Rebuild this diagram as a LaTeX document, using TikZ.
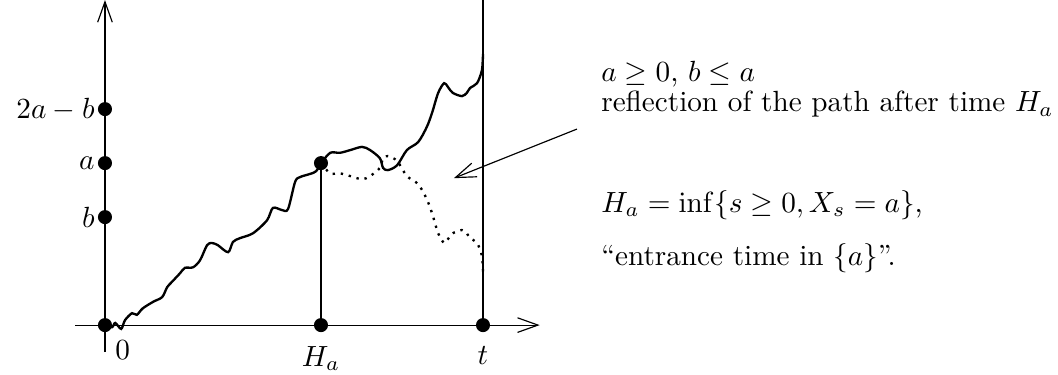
\documentclass[tikz,border=0pt]{standalone}
\usetikzlibrary{arrows.meta}
\begin{document}
\begin{tikzpicture}[x=0.65cm, y=0.65cm, >={Straight Barb[length=7pt,width=5pt]}]
        \useasboundingbox (-1.944,-0.907) rectangle (17.648,6.02);
        % Axes
        \draw[->] (-0.55,0) -- (8.05,0);
        \draw[->] (0,-0.5) -- (0,6.02);
        \draw (4,0) -- (4,3);
        \draw (7,0) -- (7,6.02);

        % Labels
        \node[left] (lab2ab) at (0,4) {$2a-b$};
        \node[left] (laba) at (0,3) {$a$};
        \node[left] (labb) at (0,2) {$b$};
        \node[below right] (lab0) at (0,-0.1) {$0$};
        \node[below] (labHa) at (4,-0.2) {$H_a$};
        \node[below] (labt) at (7,-0.2) {$t$};

        % Path up to H_a
        \draw[thick] plot[smooth] coordinates {(0,0) (0.13,-0.04) (0.19,0.04) (0.30,-0.07)
            (0.37,0.09) (0.50,0.22) (0.59,0.19) (0.70,0.31) (0.89,0.43) (1.06,0.52)
            (1.15,0.70) (1.24,0.80) (1.39,0.96) (1.48,1.06) (1.63,1.07) (1.76,1.20)
            (1.89,1.48) (1.98,1.52) (2.09,1.48) (2.28,1.35) (2.37,1.54) (2.50,1.61)
            (2.74,1.70) (3.00,1.94) (3.11,2.17) (3.28,2.13) (3.39,2.15) (3.52,2.65)
            (3.61,2.74) (3.80,2.80) (3.91,2.85) (4,3)};
        % Path after H_a
        \draw[thick] plot[smooth] coordinates {(4,3) (4.17,3.19) (4.35,3.19) (4.54,3.24)
            (4.76,3.30) (4.91,3.24) (5.09,3.09) (5.15,2.91) (5.24,2.87) (5.41,2.96)
            (5.59,3.24) (5.80,3.39) (5.96,3.67) (6.06,3.94) (6.17,4.30) (6.28,4.48)
            (6.35,4.41) (6.44,4.30) (6.61,4.24) (6.70,4.30) (6.76,4.39) (6.89,4.48)
            (6.98,4.72) (7,5.02)};
        % Reflected path (mirror in y = a)
        \begin{scope}[shift={(0,6)}, yscale=-1]
            \draw[thick, dotted] plot[smooth] coordinates {(4,3) (4.17,3.19) (4.35,3.19) (4.54,3.24)
                (4.76,3.30) (4.91,3.24) (5.09,3.09) (5.15,2.91) (5.24,2.87) (5.41,2.96)
                (5.59,3.24) (5.80,3.39) (5.96,3.67) (6.06,3.94) (6.17,4.30) (6.28,4.48)
                (6.35,4.41) (6.44,4.30) (6.61,4.24) (6.70,4.30) (6.76,4.39) (6.89,4.48)
                (6.98,4.72) (7,5.02)};
        \end{scope}

        % Points
        \filldraw[black] (0,0) circle (2.2pt);
        \filldraw[black] (0,2) circle (2.2pt); % b
        \filldraw[black] (0,3) circle (2.2pt); % a
        \filldraw[black] (0,4) circle (2.2pt); % 2a-b
        \filldraw[black] (4,0) circle (2.2pt);
        \filldraw[black] (7,0) circle (2.2pt);
        \filldraw[black] (4,3) circle (2.2pt); % (H_a, a)

        % Text
        \node[anchor=base west] (cond) at (9,4.51) {$a\geq 0$, $b\leq a$};
        \node[anchor=base west] (refl) at (9,3.95) {reflection of the path after time $H_a$};
        \node[anchor=base west] (hit) at (9,2.09) {$H_a=\inf\{s\geq 0, X_s=a\}$,};
        \node[anchor=base west] (entr) at (9,1.11) {``entrance time in $\{a\}$''.};

        % Arrow to the reflected path
        \coordinate (arrfrom) at (8.74,3.63);
        \coordinate (arrto) at (6.46,2.72);
        \draw[->] (arrfrom) -- (arrto);
    \end{tikzpicture}
\end{document}
